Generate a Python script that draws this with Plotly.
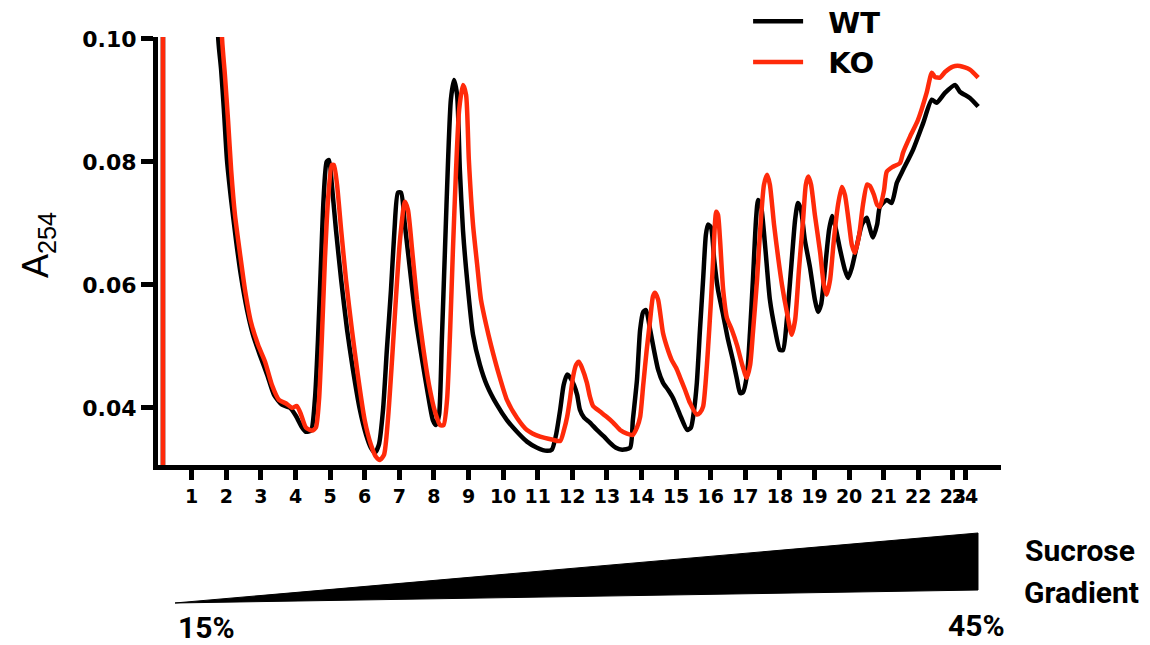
import plotly.graph_objects as go

# Fraction positions (x) and A254 values (y).
# None splits the off-scale start (sample loading peak) from the rest of the trace.
wt_x = [0.17, 0.17, None, 1.60, 1.77, 1.85, 1.93, 2.02, 2.14, 2.28, 2.42, 2.60, 2.77, 2.97, 3.18, 3.38, 3.61, 3.84,
        4.01, 4.19, 4.30, 4.45, 4.56, 4.65, 4.74, 4.81, 4.90, 4.97, 5.05, 5.17, 5.32, 5.49, 5.66, 5.86,
        6.04, 6.18, 6.30, 6.41, 6.53, 6.64, 6.76, 6.86, 6.96, 7.05, 7.16, 7.31, 7.48, 7.66, 7.83, 7.97,
        8.06, 8.15, 8.23, 8.32, 8.41, 8.49, 8.58, 8.67, 8.75, 8.84, 8.96, 9.13, 9.33, 9.53, 9.82, 10.11,
        10.40, 10.69, 10.98, 11.27, 11.41, 11.53, 11.65, 11.75, 11.85, 11.93, 12.05, 12.14, 12.22, 12.34,
        12.51, 12.71, 12.92, 13.09, 13.26, 13.44, 13.67, 13.75, 13.87, 13.96, 14.05, 14.13, 14.25, 14.36,
        14.48, 14.62, 14.77, 14.91, 15.11, 15.32, 15.43, 15.52, 15.60, 15.69, 15.78, 15.86, 15.92, 16.01,
        16.10, 16.21, 16.36, 16.50, 16.64, 16.76, 16.85, 16.93, 17.05, 17.14, 17.22, 17.31, 17.37, 17.45,
        17.57, 17.71, 17.86, 18.00, 18.09, 18.20, 18.32, 18.44, 18.52, 18.61, 18.72, 18.87, 19.01, 19.10,
        19.19, 19.30, 19.42, 19.51, 19.59, 19.74, 19.88, 19.97, 20.08, 20.23, 20.37, 20.51, 20.57, 20.69,
        20.81, 20.89, 21.09, 21.23, 21.38, 21.56, 21.85, 22.14, 22.39, 22.53, 22.77, 23.06, 23.20, 23.49, 23.73]
wt_y = [0.028, 0.13, None, 0.13, 0.0998, 0.0950, 0.0885, 0.0803, 0.0738, 0.0673, 0.0616, 0.0559, 0.0519, 0.0486,
        0.0454, 0.0421, 0.0405, 0.0400, 0.0387, 0.0368, 0.0361, 0.0363, 0.0413, 0.0511, 0.0641, 0.0738,
        0.0800, 0.0803, 0.0763, 0.0689, 0.0608, 0.0527, 0.0462, 0.0397, 0.0356, 0.0335, 0.0327, 0.0340,
        0.0397, 0.0494, 0.0592, 0.0689, 0.0750, 0.0750, 0.0698, 0.0624, 0.0543, 0.0478, 0.0421, 0.0380,
        0.0372, 0.0389, 0.0511, 0.0657, 0.0803, 0.0901, 0.0933, 0.0909, 0.0787, 0.0689, 0.0608, 0.0519,
        0.0470, 0.0437, 0.0405, 0.0380, 0.0361, 0.0345, 0.0335, 0.0330, 0.0332, 0.0356, 0.0397, 0.0437,
        0.0454, 0.0450, 0.0437, 0.0421, 0.0397, 0.0384, 0.0376, 0.0364, 0.0353, 0.0343, 0.0335, 0.0332,
        0.0335, 0.0380, 0.0446, 0.0527, 0.0556, 0.0559, 0.0527, 0.0494, 0.0462, 0.0441, 0.0429, 0.0416,
        0.0389, 0.0364, 0.0368, 0.0397, 0.0441, 0.0527, 0.0608, 0.0681, 0.0698, 0.0693, 0.0641, 0.0592,
        0.0551, 0.0511, 0.0478, 0.0446, 0.0424, 0.0425, 0.0454, 0.0527, 0.0608, 0.0706, 0.0738, 0.0730,
        0.0665, 0.0576, 0.0527, 0.0494, 0.0494, 0.0543, 0.0624, 0.0706, 0.0733, 0.0722, 0.0673, 0.0628,
        0.0576, 0.0556, 0.0568, 0.0624, 0.0689, 0.0712, 0.0698, 0.0657, 0.0624, 0.0611, 0.0628, 0.0665,
        0.0698, 0.0709, 0.0698, 0.0677, 0.0698, 0.0727, 0.0738, 0.0733, 0.0766, 0.0787, 0.0820, 0.0863,
        0.0901, 0.0896, 0.0912, 0.0925, 0.0914, 0.0904, 0.0890]

ko_x = [0.17, 0.17, None, 1.70, 1.88, 1.96, 2.05, 2.14, 2.25, 2.40, 2.54, 2.71, 2.92, 3.12, 3.32, 3.52, 3.73, 3.90,
        4.04, 4.16, 4.30, 4.48, 4.59, 4.68, 4.76, 4.85, 4.94, 5.05, 5.11, 5.20, 5.32, 5.46, 5.63, 5.80,
        6.00, 6.18, 6.33, 6.44, 6.56, 6.67, 6.79, 6.90, 7.02, 7.16, 7.25, 7.37, 7.51, 7.68, 7.86, 8.03,
        8.18, 8.28, 8.38, 8.47, 8.55, 8.64, 8.73, 8.84, 8.93, 9.01, 9.13, 9.25, 9.36, 9.51, 9.65, 9.88,
        10.11, 10.40, 10.69, 11.07, 11.44, 11.65, 11.76, 11.85, 11.93, 12.02, 12.11, 12.19, 12.28, 12.42,
        12.51, 12.60, 12.80, 13.00, 13.18, 13.38, 13.58, 13.75, 13.87, 13.96, 14.05, 14.15, 14.25, 14.33,
        14.39, 14.48, 14.62, 14.74, 14.87, 15.00, 15.11, 15.26, 15.40, 15.60, 15.69, 15.78, 15.86, 15.92,
        16.01, 16.07, 16.16, 16.21, 16.27, 16.36, 16.47, 16.61, 16.76, 16.91, 17.04, 17.14, 17.22, 17.34,
        17.42, 17.54, 17.63, 17.71, 17.83, 17.95, 18.06, 18.20, 18.34, 18.44, 18.55, 18.67, 18.75, 18.82,
        18.90, 19.01, 19.16, 19.27, 19.35, 19.45, 19.56, 19.68, 19.79, 19.88, 20.00, 20.08, 20.17, 20.29,
        20.40, 20.52, 20.60, 20.72, 20.81, 20.89, 21.01, 21.09, 21.27, 21.47, 21.56, 21.76, 21.99, 22.24,
        22.39, 22.48, 22.63, 22.77, 23.00, 23.20, 23.49, 23.73]
ko_y = [0.028, 0.13, None, 0.13, 0.0998, 0.0941, 0.0868, 0.0787, 0.0714, 0.0649, 0.0592, 0.0540, 0.0502, 0.0475,
        0.0437, 0.0413, 0.0407, 0.0400, 0.0403, 0.0389, 0.0368, 0.0363, 0.0368, 0.0413, 0.0511, 0.0641,
        0.0738, 0.0795, 0.0795, 0.0763, 0.0689, 0.0608, 0.0527, 0.0454, 0.0380, 0.0340, 0.0320, 0.0315,
        0.0324, 0.0380, 0.0478, 0.0576, 0.0673, 0.0735, 0.0722, 0.0657, 0.0576, 0.0502, 0.0437, 0.0394,
        0.0372, 0.0372, 0.0413, 0.0527, 0.0657, 0.0787, 0.0885, 0.0925, 0.0909, 0.0803, 0.0698, 0.0633,
        0.0576, 0.0535, 0.0502, 0.0454, 0.0413, 0.0384, 0.0364, 0.0353, 0.0348, 0.0346, 0.0364, 0.0385,
        0.0413, 0.0450, 0.0470, 0.0475, 0.0465, 0.0441, 0.0418, 0.0403, 0.0394, 0.0385, 0.0376, 0.0364,
        0.0358, 0.0356, 0.0368, 0.0385, 0.0437, 0.0494, 0.0543, 0.0581, 0.0587, 0.0576, 0.0522, 0.0498,
        0.0478, 0.0465, 0.0450, 0.0429, 0.0408, 0.0389, 0.0392, 0.0402, 0.0446, 0.0494, 0.0576, 0.0641,
        0.0719, 0.0714, 0.0673, 0.0592, 0.0546, 0.0527, 0.0502, 0.0470, 0.0449, 0.0470, 0.0522, 0.0608,
        0.0681, 0.0763, 0.0779, 0.0763, 0.0698, 0.0644, 0.0600, 0.0556, 0.0519, 0.0543, 0.0624, 0.0706,
        0.0763, 0.0776, 0.0763, 0.0714, 0.0654, 0.0600, 0.0584, 0.0608, 0.0673, 0.0730, 0.0759, 0.0746,
        0.0698, 0.0665, 0.0652, 0.0681, 0.0730, 0.0763, 0.0761, 0.0746, 0.0730, 0.0727, 0.0754, 0.0784,
        0.0792, 0.0798, 0.0815, 0.0841, 0.0868, 0.0912, 0.0945, 0.0938, 0.0937, 0.0946, 0.0955, 0.0956,
        0.0950, 0.0937]

tick_vals = list(range(1, 24)) + [23.35]
tick_text = [str(i) for i in range(1, 25)]
y_ticks = [0.04, 0.06, 0.08, 0.10]
y_ticktext = ["0.04", "0.06", "0.08", "0.10"]

fig = go.Figure()
fig.add_trace(go.Scatter(x=wt_x, y=wt_y, mode="lines", name="\u00a0\u00a0WT", connectgaps=False,
                         line=dict(color="#000000", width=4.5, shape="spline", smoothing=0.6)))
fig.add_trace(go.Scatter(x=ko_x, y=ko_y, mode="lines", name="\u00a0\u00a0KO", connectgaps=False,
                         line=dict(color="#ff2a0a", width=4.5, shape="spline", smoothing=0.6)))

bold = dict(family="DejaVu Sans", color="black", weight="bold")

fig.update_layout(
    width=1150, height=645, autosize=False,
    margin=dict(l=158, r=149, t=37, b=180, autoexpand=False),
    plot_bgcolor="white", paper_bgcolor="white",
    showlegend=True,
    xaxis=dict(range=[0.026, 24.39], showgrid=False, zeroline=False,
               showline=True, linewidth=5, linecolor="black",
               ticks="outside", ticklen=10, tickwidth=5, tickcolor="black",
               tickvals=tick_vals, ticktext=tick_text, tickangle=0,
               tickfont=dict(size=19, **bold)),
    yaxis=dict(range=[0.0307, 0.1003], showgrid=False, zeroline=False,
               showline=True, linewidth=5, linecolor="black",
               ticks="outside", ticklen=12, tickwidth=5, tickcolor="black",
               tickvals=y_ticks, ticktext=y_ticktext,
               tickfont=dict(size=22, **bold)),
    legend=dict(x=0.70, y=1.096, xanchor="left", yanchor="top",
                bgcolor="rgba(0,0,0,0)", itemwidth=50,
                font=dict(size=29, **bold)),
)

fig.add_annotation(text="A<sub>254</sub>", xref="paper", yref="paper", x=-0.1423, y=0.514,
                   xanchor="center", yanchor="middle",
                   textangle=-90, showarrow=False,
                   font=dict(family="Liberation Sans", size=36, color="black"))

fig.add_shape(type="path", xref="paper", yref="paper",
              path="M 0.0202 -0.3224 L 0.9727 -0.1589 L 0.9727 -0.2921 Z",
              fillcolor="black", line=dict(color="black", width=1))

cal = dict(family="Roboto", size=30, color="black", weight="bold")
for txt, x, y in [("15%", 0.0581, -0.3800), ("45%", 0.9715, -0.3740),
                  ("Sucrose", 1.0937, -0.1990), ("Gradient", 1.0949, -0.2990)]:
    fig.add_annotation(text=txt, xref="paper", yref="paper", x=x, y=y, showarrow=False,
                       xanchor="center", yanchor="middle", font=cal)

fig.write_html("out.html")
